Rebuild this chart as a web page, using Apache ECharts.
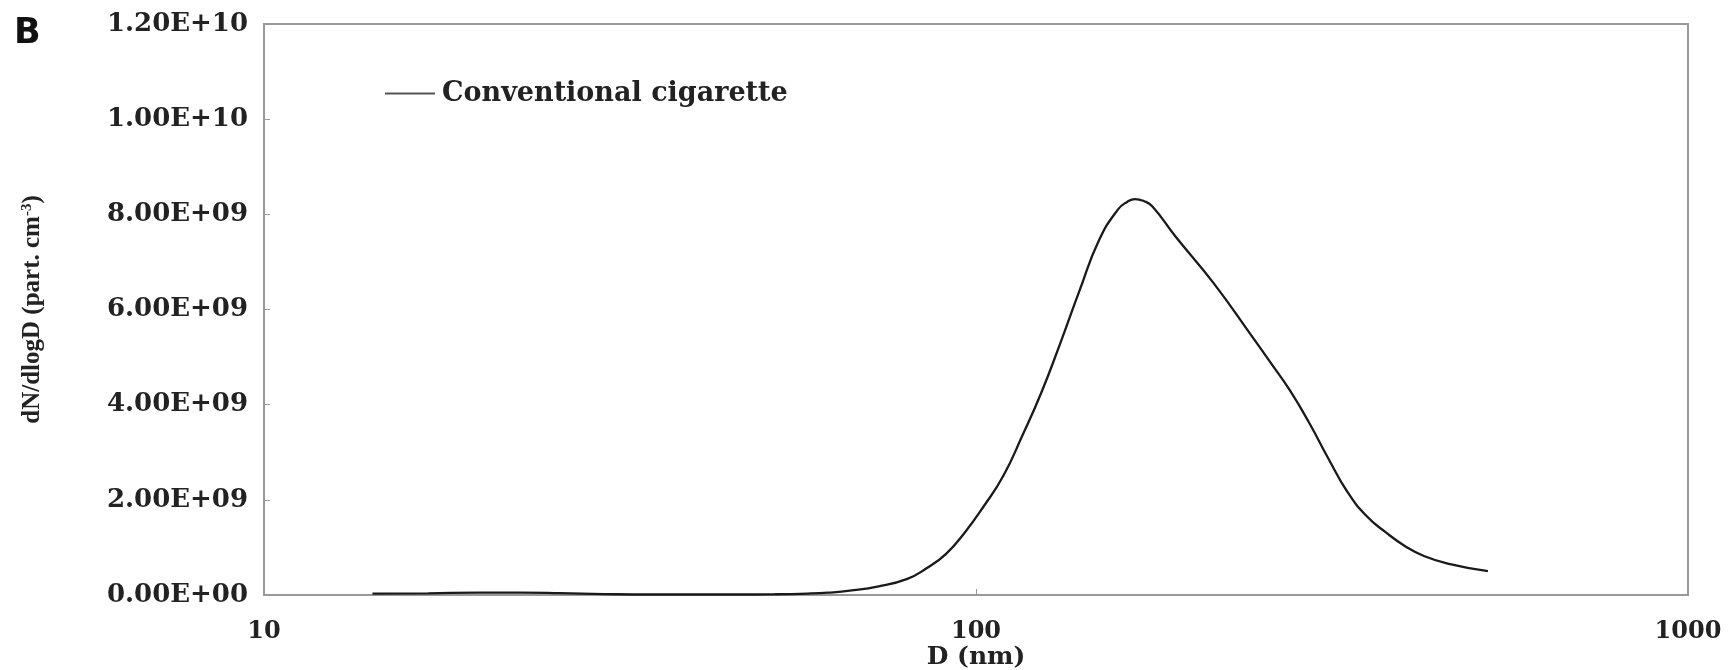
<!DOCTYPE html>
<html>
<head>
<meta charset="utf-8">
<script src="https://cdn.jsdelivr.net/npm/echarts@6/dist/echarts.min.js"></script>
<style>html,body{margin:0;padding:0;background:#fff}#c{width:1736px;height:670px}</style>
</head>
<body>
<div id="c"></div>
<script>
// Particle diameter D (nm)
const diameters = [14.2, 17, 20, 23, 26, 30, 35, 40, 46, 52, 58, 62, 66.5, 73, 80.1, 85, 90.7, 96.4, 102.6, 109.2, 116.1, 123.5, 131.4, 139.8, 148.8, 158.2, 163, 167.3, 172, 176.8, 190.5, 215.5, 244.0, 259.4, 276, 293.7, 312.5, 332.3, 353.6, 376.1, 400.2, 425.6, 463.3, 523.6];
// dN/dlogD (part. cm-3)
const conventional = [0.03e9, 0.035e9, 0.05e9, 0.05e9, 0.04e9, 0.02e9, 0.01e9, 0.01e9, 0.01e9, 0.015e9, 0.03e9, 0.05e9, 0.09e9, 0.18e9, 0.34e9, 0.55e9, 0.86e9, 1.31e9, 1.87e9, 2.50e9, 3.34e9, 4.25e9, 5.30e9, 6.40e9, 7.45e9, 8.10e9, 8.26e9, 8.32e9, 8.28e9, 8.17e9, 7.54e9, 6.56e9, 5.44e9, 4.88e9, 4.30e9, 3.62e9, 2.87e9, 2.17e9, 1.66e9, 1.32e9, 1.03e9, 0.82e9, 0.65e9, 0.50e9];
const yTickLabels = ['0.00E+00', '2.00E+09', '4.00E+09', '6.00E+09', '8.00E+09', '1.00E+10', '1.20E+10'];
const xTickLabels = {10: '10', 100: '100', 1000: '1000'};
const seriesName = 'Conventional cigarette';

const chart = echarts.init(document.getElementById('c'), null, {renderer: 'canvas'});
const labelFont = {fontFamily: 'DejaVu Serif', fontWeight: 'bold', color: '#222'};
chart.setOption({
  animation: false,
  backgroundColor: '#fff',
  graphic: [{
    type: 'text', left: 14, top: 16,
    style: {text: 'B', font: 'bold 35px "DejaVu Sans"', fill: '#111'}
  }],
  legend: {
    left: 380, top: 75,
    icon: 'rect', itemWidth: 50, itemHeight: 2, itemGap: 10,
    textStyle: Object.assign({fontSize: 27, padding: [0, 0, 0, 2]}, labelFont),
    data: [seriesName]
  },
  grid: {left: 264, right: 48, top: 24, bottom: 75, show: true, borderColor: '#999', borderWidth: 2, containLabel: false, outerBoundsMode: 'none'},
  xAxis: {
    type: 'log', logBase: 10, min: 10, max: 1000,
    name: 'D (nm)', nameLocation: 'middle', nameGap: 50, nameMoveOverlap: false,
    nameTextStyle: Object.assign({fontSize: 25}, labelFont),
    axisLine: {lineStyle: {color: '#999', width: 2}},
    axisTick: {inside: true, length: 6, lineStyle: {color: '#999'}},
    minorTick: {show: false},
    splitLine: {show: false},
    axisLabel: Object.assign({fontSize: 24, margin: 25, formatter: v => xTickLabels[Math.round(v)] || ''}, labelFont)
  },
  yAxis: {
    type: 'value', min: 0, max: 1.2e10, interval: 2e9,
    name: '{a|dN/dlogD (part. cm}{s|-3}{a|)}', nameLocation: 'middle', nameGap: 219, nameRotate: 90, nameMoveOverlap: false,
    nameTextStyle: {
      rich: {
        a: {fontFamily: 'Liberation Serif', fontWeight: 'bold', fontSize: 25, color: '#222'},
        s: {fontFamily: 'Liberation Serif', fontWeight: 'bold', fontSize: 15, color: '#222', verticalAlign: 'top', padding: [0, 0, 10, 0]}
      }
    },
    axisLine: {show: true, lineStyle: {color: '#999', width: 2}},
    axisTick: {show: true, inside: true, length: 6, lineStyle: {color: '#999'}},
    splitLine: {show: false},
    axisLabel: Object.assign({fontSize: 26, margin: 16, formatter: v => yTickLabels[Math.round(v / 2e9)]}, labelFont)
  },
  series: [{
    name: seriesName, type: 'line', smooth: 0.5, symbol: 'none',
    lineStyle: {color: '#1a1a1a', width: 2.3},
    itemStyle: {color: '#555'},
    data: diameters.map((d, i) => [d, conventional[i]])
  }]
});
</script>
</body>
</html>
